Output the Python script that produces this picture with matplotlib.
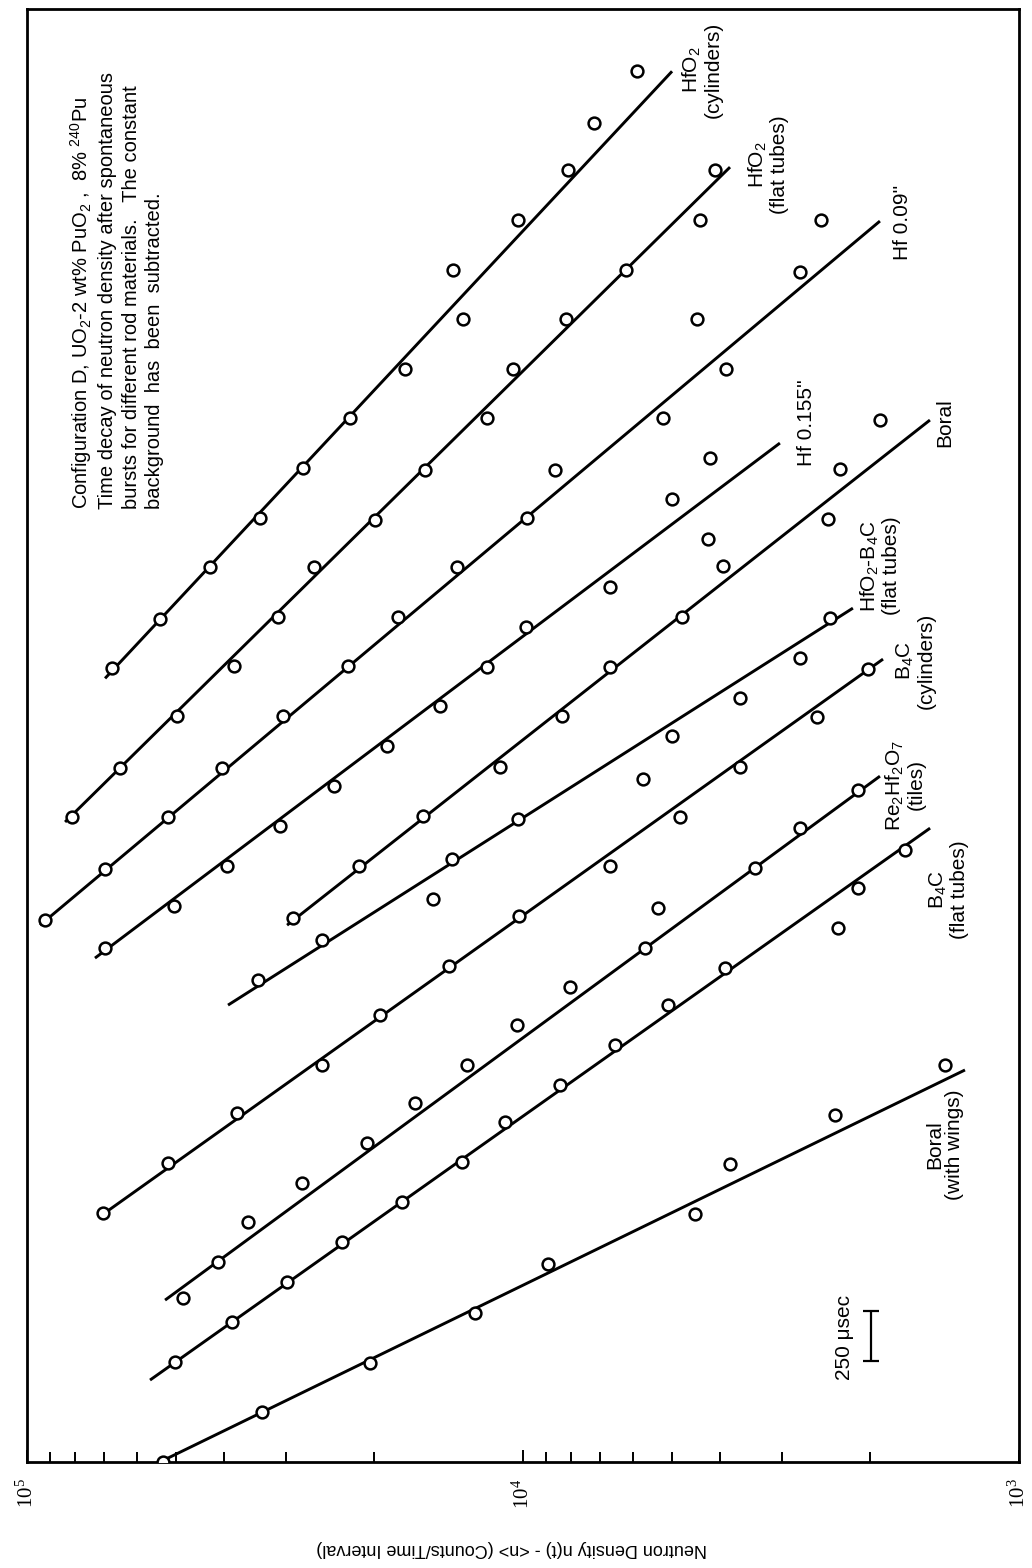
import matplotlib
matplotlib.use("Agg")
import matplotlib.pyplot as plt
from matplotlib.ticker import LogLocator, FixedLocator, NullFormatter

plt.rcParams['font.family'] = ['Liberation Sans', 'DejaVu Sans']
plt.rcParams['mathtext.default'] = 'regular'

# ---- data: time after burst (microseconds) and neutron density n(t)-<n> ----
t_hfo2_cyl = [4000, 4250, 4510, 4760, 5010, 5260, 5510, 5760, 6010, 6260, 6510, 6750, 7010]
n_hfo2_cyl = [67400, 53950, 42760, 33900, 27770, 22320, 17290, 13210, 13840, 10230, 8115, 7193, 5891]
line_hfo2_cyl_t = [3950, 7010]
line_hfo2_cyl_n = [69600, 5006]

t_hfo2_flat = [3250, 3500, 3760, 4010, 4260, 4510, 4750, 5000, 5260, 5510, 5760, 6010, 6260, 6510]
n_hfo2_flat = [81170, 64940, 49840, 38250, 31190, 26380, 19890, 15760, 11820, 10470, 8192, 6198, 4397, 4101]
line_hfo2_flat_t = [3226, 6527]
line_hfo2_flat_n = [83800, 3825]

t_hf09 = [2730, 2990, 3250, 3500, 3760, 4010, 4260, 4510, 4760, 5000, 5260, 5510, 5760, 6000, 6260]
n_hf09 = [92000, 69640, 51940, 40440, 30470, 22530, 17870, 13590, 9815, 8620, 5220, 3897, 4459, 2764, 2507]
line_hf09_t = [2706, 6255]
line_hf09_n = [94140, 1907]

t_hf155 = [2591, 2802, 3004, 3205, 3407, 3609, 3810, 4007, 4208, 4410, 4652, 4854, 5060]
n_hf155 = [69640, 50520, 39510, 30890, 24040, 18800, 14700, 11820, 9862, 6677, 4236, 5007, 4198]
line_hf155_t = [2540, 5136]
line_hf155_n = [72940, 3034]

t_boral = [2742, 3004, 3256, 3503, 3760, 4007, 4259, 4516, 4753, 5005, 5252]
n_boral = [29090, 21410, 15900, 11130, 8345, 6676, 4779, 3952, 2428, 2296, 1906]
line_boral_t = [2706, 5252]
line_boral_n = [29900, 1512]

t_hfo2b4c = [2429, 2631, 2838, 3039, 3241, 3442, 3659, 3851, 4052, 4254]
n_hfo2b4c = [34220, 25420, 15190, 13900, 10230, 5729, 5006, 3652, 2764, 2404]
line_hfo2b4c_t = [2303, 4304]
line_hfo2b4c_n = [39330, 2162]

t_b4c_cyl = [1255, 1507, 1759, 2001, 2253, 2500, 2752, 3004, 3251, 3503, 3755, 3997]
n_b4c_cyl = [70280, 51940, 37720, 25420, 19420, 14100, 10190, 6677, 4825, 3651, 2554, 2016]
line_b4c_cyl_t = [1245, 4047]
line_b4c_cyl_n = [70610, 1880]

t_rehf = [827, 1008, 1210, 1406, 1608, 1809, 2001, 2202, 2394, 2591, 2792, 2994, 3195, 3387]
n_rehf = [48450, 41200, 35840, 27900, 20630, 16510, 12970, 10280, 8037, 5675, 5341, 3405, 2763, 2112]
line_rehf_t = [816, 3457]
line_rehf_n = [52680, 1907]

t_b4c_flat = [504, 706, 907, 1109, 1310, 1512, 1714, 1900, 2102, 2303, 2490, 2691, 2893, 3084]
n_b4c_flat = [50290, 38600, 29900, 23170, 17540, 13270, 10870, 8424, 6524, 5100, 3915, 2317, 2112, 1698]
line_b4c_flat_t = [413, 3195]
line_b4c_flat_n = [56490, 1511]

t_boral_w = [0, 250, 500, 750, 1000, 1250, 1500, 1750, 2000]
n_boral_w = [53170, 33590, 20340, 12490, 8906, 4498, 3825, 2350, 1410]
line_boral_w_t = [0, 1976]
line_boral_w_n = [53950, 1285]

series = [
    (t_hfo2_cyl, n_hfo2_cyl, line_hfo2_cyl_t, line_hfo2_cyl_n),
    (t_hfo2_flat, n_hfo2_flat, line_hfo2_flat_t, line_hfo2_flat_n),
    (t_hf09, n_hf09, line_hf09_t, line_hf09_n),
    (t_hf155, n_hf155, line_hf155_t, line_hf155_n),
    (t_boral, n_boral, line_boral_t, line_boral_n),
    (t_hfo2b4c, n_hfo2b4c, line_hfo2b4c_t, line_hfo2b4c_n),
    (t_b4c_cyl, n_b4c_cyl, line_b4c_cyl_t, line_b4c_cyl_n),
    (t_rehf, n_rehf, line_rehf_t, line_rehf_n),
    (t_b4c_flat, n_b4c_flat, line_b4c_flat_t, line_b4c_flat_n),
    (t_boral_w, n_boral_w, line_boral_w_t, line_boral_w_n),
]

tick_values = [1e5, 1e4, 1e3]
tick_labels = ['$10^5$', '$10^4$', '$10^3$']

W, H = 1032, 1568
fig = plt.figure(figsize=(W / 100, H / 100), dpi=100)
ax = fig.add_axes([27 / W, 1 - 1462 / H, 992 / W, 1453 / H])
ax.set_xscale('log')
ax.set_xlim(1e5, 1e3)
ax.set_ylim(0, 7324)

for t, n, lt, ln in series:
    ax.plot(ln, lt, color='black', lw=2.1, solid_capstyle='butt', zorder=2)
    ax.plot(n, t, linestyle='none', marker='o', ms=8.5, mfc='white', mec='black', mew=1.8, zorder=3)

# axes styling
for s in ax.spines.values():
    s.set_linewidth(2.0)
ax.set_yticks([])
ax.xaxis.set_major_locator(FixedLocator(tick_values))
ax.set_xticklabels(tick_labels, family=['Liberation Serif', 'DejaVu Serif'])
ax.xaxis.set_minor_locator(LogLocator(base=10, subs=range(2, 10)))
ax.xaxis.set_minor_formatter(NullFormatter())
ax.tick_params(axis='x', which='both', direction='in', width=1.4, pad=12,
               labelsize=15, labelrotation=90)
ax.tick_params(axis='x', which='major', length=9)
ax.tick_params(axis='x', which='minor', length=7)

def ftxt(x, y, s, **kw):
    fig.text(x / W, 1 - y / H, s, **kw)

ftxt(512, 1548, 'Neutron Density n(t) - <n> (Counts/Time Interval)', rotation=180,
     ha='center', va='center', fontsize=13)

ftxt(68, 509,
     'Configuration D, UO$_2$-2 wt% PuO$_2$ ,  8% $^{240}$Pu\n'
     'Time decay of neutron density after spontaneous\n'
     'bursts for different rod materials.   The constant\n'
     'background  has  been  subtracted.',
     rotation=90, ha='left', va='bottom', multialignment='left', fontsize=14.5, linespacing=1.3)

labels = [
    ('HfO$_2$\n(cylinders)', 702, 70),
    ('HfO$_2$\n(flat tubes)', 768, 165),
    ("Hf 0.09''", 902, 222),
    ("Hf 0.155''", 806, 423),
    ('Boral', 945, 423),
    ('HfO$_2$-B$_4$C\n(flat tubes)', 880, 566),
    ('B$_4$C\n(cylinders)', 915, 661),
    ('Re$_2$Hf$_2$O$_7$\n(tiles)', 905, 785),
    ('B$_4$C\n(flat tubes)', 948, 890),
    ('Boral\n(with wings)', 945, 1145),
]
for s, x, y in labels:
    ftxt(x, y, s, rotation=90, ha='center', va='center', multialignment='center',
         fontsize=15, linespacing=1.05)

# 250 microsecond scale bar
bar_n = 1990
bar_t = [510, 760]
ax.errorbar([bar_n], [sum(bar_t) / 2], yerr=[(bar_t[1] - bar_t[0]) / 2], color='black',
            capsize=6, elinewidth=1.6, capthick=1.6, zorder=3)
ftxt(845, 1337, '250 \u03bcsec', rotation=90, ha='center', va='center', fontsize=15)

fig.savefig('out.png', dpi=100)
